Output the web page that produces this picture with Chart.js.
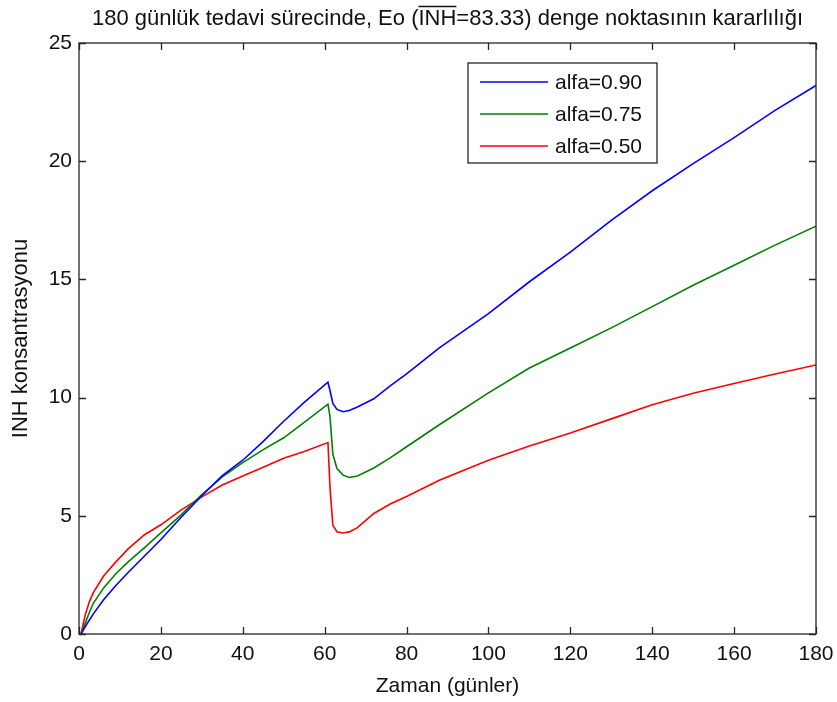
<!DOCTYPE html>
<html>
<head>
<meta charset="utf-8">
<script src="https://cdn.jsdelivr.net/npm/chart.js@4/dist/chart.umd.min.js"></script>
<style>
  body { margin: 0; background: #fff; }
  #wrap { width: 837px; height: 702px; position: relative; }
</style>
</head>
<body>
<div id="wrap"><canvas id="myChart"></canvas></div>
<script>
// simulation days (x) shared by all three runs
const days = [0.5, 1.5, 2.5, 3.5, 6, 9, 12, 16, 20, 25, 30, 35, 40, 45, 50, 55, 60.8, 61.3, 62, 63, 64.5, 66, 68,
  72, 76, 80, 88, 100, 110, 120, 130, 140, 150, 160, 170, 180];

// INH concentration for each alfa value
const alfa090 = [0.0, 0.3, 0.58, 0.85, 1.45, 2.05, 2.6, 3.3, 4.0, 4.95, 5.85, 6.7, 7.35, 8.15, 9.0, 9.8, 10.65, 10.3, 9.75, 9.5, 9.4, 9.45, 9.6,
  9.95, 10.5, 11.0, 12.1, 13.55, 14.9, 16.15, 17.5, 18.75, 19.9, 21.0, 22.15, 23.2];
const alfa075 = [0.0, 0.45, 0.9, 1.3, 1.95, 2.55, 3.05, 3.65, 4.28, 5.05, 5.9, 6.65, 7.25, 7.8, 8.3, 8.95, 9.72, 9.2, 7.6, 7.0, 6.72, 6.62, 6.68,
  7.02, 7.45, 7.92, 8.85, 10.2, 11.25, 12.1, 12.95, 13.85, 14.75, 15.6, 16.45, 17.25];
const alfa050 = [0.0, 0.8, 1.35, 1.75, 2.45, 3.05, 3.6, 4.2, 4.62, 5.25, 5.8, 6.3, 6.68, 7.05, 7.43, 7.72, 8.1, 6.2, 4.6, 4.32, 4.27, 4.32, 4.5,
  5.1, 5.5, 5.82, 6.5, 7.35, 7.95, 8.5, 9.1, 9.7, 10.18, 10.6, 11.0, 11.38];

const seriesLabels = ['alfa=0.90', 'alfa=0.75', 'alfa=0.50'];
const seriesColors = ['#0000ff', '#008000', '#ff0000'];

const xTicks = [0, 20, 40, 60, 80, 100, 120, 140, 160, 180];
const yTicks = [0, 5, 10, 15, 20, 25];

const titleText = '180 günlük tedavi sürecinde, Eo (INH=83.33) denge noktasının kararlılığı';
const FONT = '"Liberation Sans", Arial, sans-serif';

function toPoints(vals) {
  return days.map((d, i) => ({ x: d, y: vals[i] }));
}

// frame, inward ticks, title with overline and the legend box
const matlabAxes = {
  id: 'matlabAxes',
  afterDraw(chart) {
    const c = chart.ctx;
    const a = chart.chartArea;
    const xs = chart.scales.x, ys = chart.scales.y;
    c.save();
    c.strokeStyle = '#262626';
    c.lineWidth = 1.3;
    c.strokeRect(a.left, a.top, a.right - a.left, a.bottom - a.top);
    c.beginPath();
    const tl = 7;
    xTicks.forEach(v => {
      const px = Math.round(xs.getPixelForValue(v)) + 0.5;
      c.moveTo(px, a.bottom); c.lineTo(px, a.bottom - tl);
      c.moveTo(px, a.top); c.lineTo(px, a.top + tl);
    });
    yTicks.forEach(v => {
      const py = Math.round(ys.getPixelForValue(v)) + 0.5;
      c.moveTo(a.left, py); c.lineTo(a.left + tl, py);
      c.moveTo(a.right, py); c.lineTo(a.right - tl, py);
    });
    c.stroke();

    // title
    c.fillStyle = '#111';
    c.font = '22px ' + FONT;
    c.textBaseline = 'alphabetic';
    c.textAlign = 'left';
    const tw = c.measureText(titleText).width;
    const tx = (a.left + a.right) / 2 - tw / 2;
    const ty = 25;
    c.fillText(titleText, tx, ty);
    // bar over INH
    const pre = titleText.slice(0, titleText.indexOf('INH'));
    const ox = tx + c.measureText(pre).width;
    const ow = c.measureText('INH').width;
    c.strokeStyle = '#111';
    c.lineWidth = 1.3;
    c.beginPath();
    c.moveTo(ox, ty - 18.5); c.lineTo(ox + ow, ty - 18.5);
    c.stroke();

    // legend
    const lx = 468, ly = 63, lw = 189, lh = 100;
    c.fillStyle = '#fff';
    c.fillRect(lx, ly, lw, lh);
    c.strokeStyle = '#262626';
    c.lineWidth = 1.3;
    c.strokeRect(lx, ly, lw, lh);
    c.font = '21px ' + FONT;
    c.textBaseline = 'middle';
    seriesLabels.forEach((lab, i) => {
      const yy = ly + 19 + i * 32;
      c.strokeStyle = seriesColors[i];
      c.lineWidth = 1.5;
      c.beginPath();
      c.moveTo(lx + 12, yy); c.lineTo(lx + 80, yy);
      c.stroke();
      c.fillStyle = '#111';
      c.fillText(lab, lx + 87, yy + 1);
    });
    c.restore();
  }
};

const ctx = document.getElementById('myChart').getContext('2d');

const myChart = new Chart(ctx, {
  type: 'line',
  data: {
    datasets: [0, 1, 2].map(i => ({
      label: seriesLabels[i],
      data: toPoints([alfa090, alfa075, alfa050][i]),
      borderColor: seriesColors[i],
      borderWidth: 1.6,
      pointRadius: 0,
      tension: 0,
      fill: false
    }))
  },
  options: {
    responsive: true,
    maintainAspectRatio: false,
    animation: false,
    layout: { padding: { top: 43, right: 21, left: 0, bottom: 0 } },
    plugins: {
      legend: { display: false },
      title: { display: false },
      tooltip: { enabled: false }
    },
    scales: {
      x: {
        type: 'linear',
        min: 0, max: 180,
        afterFit(s) { s.height = 68; },
        afterBuildTicks(s) { s.ticks = xTicks.map(v => ({ value: v })); },
        grid: { display: false },
        border: { display: false },
        ticks: { color: '#111', font: { family: FONT, size: 21 }, padding: 0, maxRotation: 0 },
        title: { display: true, text: 'Zaman (günler)', color: '#111', font: { family: FONT, size: 21 }, padding: { top: 0, bottom: 3 } }
      },
      y: {
        min: 0, max: 25,
        afterFit(s) { s.width = 79; },
        afterBuildTicks(s) { s.ticks = yTicks.map(v => ({ value: v })); },
        grid: { display: false, tickLength: 7 },
        border: { display: false },
        ticks: { color: '#111', font: { family: FONT, size: 21 }, padding: 0 },
        title: { display: true, text: 'INH konsantrasyonu', color: '#111', font: { family: FONT, size: 22 }, padding: { top: 8, bottom: 0 } }
      }
    }
  },
  plugins: [matlabAxes]
});
</script>
</body>
</html>
